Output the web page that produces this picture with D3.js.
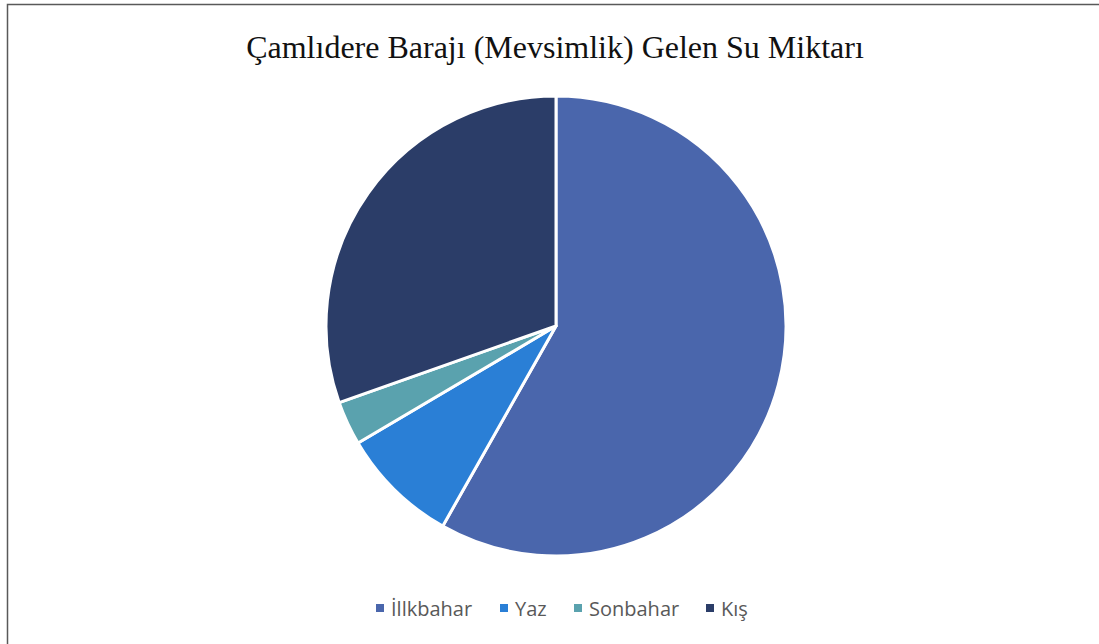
<!DOCTYPE html>
<html>
<head>
<meta charset="utf-8">
<script src="https://cdn.jsdelivr.net/npm/d3@7"></script>
<style>
  body { margin: 0; background: #fff; }
</style>
</head>
<body>
<div id="chart-area"></div>
<script>
// season shares (percent)
var seasons = ["İllkbahar", "Yaz", "Sonbahar", "Kış"];
var values = [58.2, 8.3, 3.1, 30.4];
var colors = ["#4a66ac", "#2a7fd6", "#5aa2ae", "#2b3d68"];

var width = 1099, height = 644;

var svg = d3.select("#chart-area")
    .append("svg")
        .attr("width", width)
        .attr("height", height);

svg.append("rect")
    .attr("width", width)
    .attr("height", height)
    .attr("fill", "white");

// chart frame (runs off the right and bottom edge)
svg.append("rect")
    .attr("x", 7.5)
    .attr("y", 4.5)
    .attr("width", 1100)
    .attr("height", 660)
    .attr("fill", "none")
    .attr("stroke", "#595959")
    .attr("stroke-width", 1.5);

svg.append("text")
    .attr("x", 555)
    .attr("y", 58)
    .attr("text-anchor", "middle")
    .attr("font-family", "'Liberation Serif', 'Times New Roman', serif")
    .attr("font-size", "32px")
    .attr("fill", "#111")
    .text("Çamlıdere Barajı (Mevsimlik) Gelen Su Miktarı");

var pie = d3.pie().sort(null).value(function(d) { return d; });
var arc = d3.arc().innerRadius(0).outerRadius(230);

var g = svg.append("g")
    .attr("transform", "translate(556,326)");

g.selectAll("path")
    .data(pie(values))
    .enter().append("path")
        .attr("d", arc)
        .attr("fill", function(d, i) { return colors[i]; })
        .attr("stroke", "white")
        .attr("stroke-width", 3)
        .attr("stroke-linejoin", "round");

// legend
var legendPos = [376, 500, 574, 706];

var legend = svg.selectAll(".legend")
    .data(seasons)
    .enter().append("g")
        .attr("class", "legend")
        .attr("transform", function(d, i) { return "translate(" + legendPos[i] + ",608)"; });

legend.append("rect")
    .attr("x", 0)
    .attr("y", -4)
    .attr("width", 8)
    .attr("height", 8)
    .attr("fill", function(d, i) { return colors[i]; });

legend.append("text")
    .attr("x", 15)
    .attr("y", 7.5)
    .attr("font-family", "'Open Sans', 'Noto Sans', sans-serif")
    .attr("font-size", "20px")
    .attr("fill", "#595959")
    .text(function(d) { return d; });
</script>
</body>
</html>
